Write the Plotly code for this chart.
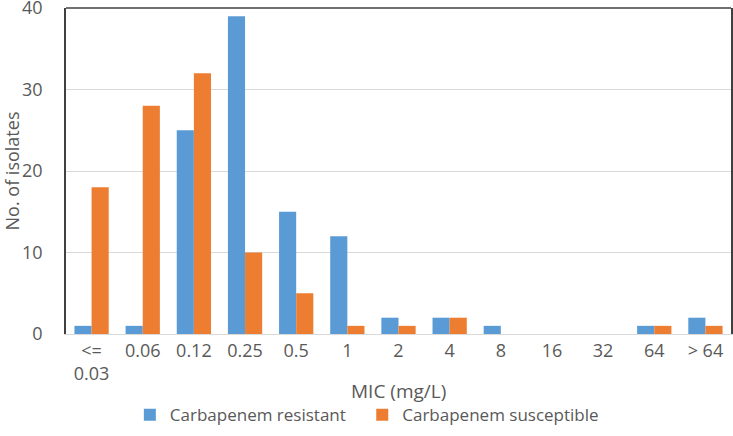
import plotly.graph_objects as go

categories = ["<=<br>0.03", "0.06", "0.12", "0.25", "0.5", "1", "2", "4", "8", "16", "32", "64", "> 64"]
resistant = [1, 1, 25, 39, 15, 12, 2, 2, 1, 0, 0, 1, 2]
susceptible = [18, 28, 32, 10, 5, 1, 1, 2, 0, 0, 0, 1, 1]
y_ticks = [0, 10, 20, 30, 40]

FONT = "Open Sans"
GRAY = "#595959"

fig = go.Figure()
fig.add_trace(go.Bar(x=categories, y=resistant, name="Carbapenem resistant", marker_color="#5B9BD5",
                     marker_line_width=0, showlegend=True))
fig.add_trace(go.Bar(x=categories, y=susceptible, name="Carbapenem susceptible", marker_color="#ED7D31",
                     marker_line_width=0, showlegend=True, legend="legend2"))

legend_style = dict(orientation="h", xanchor="left", y=-0.249, yanchor="middle", visible=True,
                    font=dict(size=17, color=GRAY), itemwidth=30, bgcolor="rgba(0,0,0,0)")

fig.update_layout(
    width=733, height=436,
    showlegend=True,
    margin=dict(l=66, r=2, t=8, b=102, autoexpand=False),
    paper_bgcolor="white", plot_bgcolor="white",
    barmode="group", bargap=0.33, bargroupgap=0,
    font=dict(family=FONT, color=GRAY, size=15),
    legend=dict(x=0.096, **legend_style),
    legend2=dict(x=0.4455, **legend_style),
    xaxis=dict(type="category", showline=True, linecolor="#d9d9d9", linewidth=1, automargin=False,
               ticks="", tickfont=dict(size=18, color=GRAY)),
    yaxis=dict(range=[0, 40], tickvals=y_ticks, showline=True, linecolor="#404040", linewidth=1.5, mirror=True,
               showgrid=True, gridcolor="#d9d9d9", zeroline=False, ticks="", automargin=False,
               tickfont=dict(size=18, color=GRAY), ticklabelstandoff=18, ticklabeloverflow="allow",
               title=dict(text="No. of isolates", font=dict(size=18, color=GRAY), standoff=8)),
)
# x-axis title placed as in the reference (overlapping the second tick line row)
fig.add_annotation(text="MIC (mg/L)", xref="paper", yref="paper", x=0.5, y=-0.175,
                   xanchor="center", yanchor="middle", showarrow=False,
                   font=dict(size=19, color=GRAY, family=FONT))
fig.add_shape(type="line", xref="paper", yref="paper", x0=0, x1=1, y0=1, y1=1,
              line=dict(color="#404040", width=1.5))

fig.write_html("out.html", config={"displayModeBar": False},
               post_script="document.body.style.margin='0px';document.body.style.overflow='hidden';")
